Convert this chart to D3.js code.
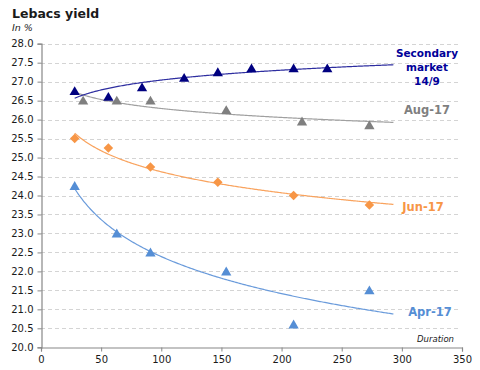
<!DOCTYPE html>
<html>
<head>
<meta charset="utf-8">
<script src="https://cdn.jsdelivr.net/npm/d3@7"></script>
<style>
  body { margin: 0; background: #fff; }
  svg { display: block; font-family: "DejaVu Sans", Verdana, sans-serif; }
</style>
</head>
<body>
<svg id="chart" width="480" height="370"></svg>
<script>
// data ---------------
const secDays = [28, 56, 84, 119, 147, 175, 210, 238];
const secYield = [26.75, 26.6, 26.85, 27.1, 27.25, 27.35, 27.35, 27.35];

const augDays = [35, 63, 91, 154, 217, 273];
const augYield = [26.5, 26.5, 26.5, 26.25, 25.95, 25.85];

const junDays = [28, 56, 91, 147, 210, 273];
const junYield = [25.5, 25.25, 24.75, 24.35, 24.0, 23.75];

const aprDays = [28, 63, 91, 154, 210, 273];
const aprYield = [24.25, 23.0, 22.5, 22.0, 20.6, 21.5];

const xTicks = [0, 50, 100, 150, 200, 250, 300, 350];
const yTicks = [20, 20.5, 21, 21.5, 22, 22.5, 23, 23.5, 24, 24.5, 25, 25.5, 26, 26.5, 27, 27.5, 28];
const trendRange = [28, 293];

const series = [
  { name: "Aug-17", days: augDays, vals: augYield, marker: "tri", color: "#7f7f7f", line: "#a0a0a0" },
  { name: "Jun-17", days: junDays, vals: junYield, marker: "dia", color: "#f79646", line: "#f9a35e" },
  { name: "Apr-17", days: aprDays, vals: aprYield, marker: "tri", color: "#558ed5", line: "#6a9bdb" },
  { name: "Secondary", days: secDays, vals: secYield, marker: "tri", color: "#000080", line: "#2e2ea0" }
];

const svg = d3.select("#chart");

const x = d3.scaleLinear().domain([0, 350]).range([41, 462]);
const y = d3.scaleLinear().domain([20, 28]).range([347.3, 43.7]);

// grille
svg.append("g")
  .selectAll("line")
  .data(yTicks.filter((d) => d > 20))
  .enter()
  .append("line")
  .attr("x1", x(0))
  .attr("x2", 459)
  .attr("y1", (d) => Math.round(y(d)) + 0.5)
  .attr("y2", (d) => Math.round(y(d)) + 0.5)
  .attr("stroke", "#d4d4d4")
  .attr("stroke-dasharray", "4,3");

// axes
const xAxis = svg.append("g")
  .attr("transform", `translate(0,${Math.round(y(20)) + 0.5})`)
  .call(d3.axisBottom(x).tickValues(xTicks).tickSize(4).tickPadding(4).tickFormat(d3.format("d")));

const yAxis = svg.append("g")
  .attr("transform", `translate(${Math.round(x(0)) + 0.5},0)`)
  .call(d3.axisLeft(y).tickValues(yTicks).tickSize(4).tickPadding(4).tickFormat(d3.format(".1f")));

[xAxis, yAxis].forEach((a) => {
  a.select(".domain").attr("stroke", "#888").attr("stroke-width", 1.2);
  a.selectAll(".tick line").attr("stroke", "#888");
  a.selectAll(".tick text")
    .attr("fill", "#1a1a1a")
    .attr("font-size", 10)
    .attr("font-family", "DejaVu Sans, sans-serif");
});

// courbes de tendance (logarithmique)
const logFit = (xs, ys) => {
  const lx = xs.map(Math.log);
  const mx = d3.mean(lx);
  const my = d3.mean(ys);
  const b = d3.sum(lx, (v, i) => (v - mx) * (ys[i] - my)) / d3.sum(lx, (v) => (v - mx) ** 2);
  const a = my - b * mx;
  return (t) => a + b * Math.log(t);
};

const line = d3.line().x((d) => x(d[0])).y((d) => y(d[1])).curve(d3.curveLinear);

series.forEach((s) => {
  const f = logFit(s.days, s.vals);
  const pts = d3.range(trendRange[0], trendRange[1] + 1, 1).map((t) => [t, f(t)]);
  svg.append("path")
    .attr("d", line(pts))
    .attr("fill", "none")
    .attr("stroke", s.line)
    .attr("stroke-width", 1.2);
});

// marqueurs
const tri = d3.symbol(d3.symbolTriangle, 46);
const dia = d3.symbol(d3.symbolDiamond2, 58);

series.forEach((s) => {
  svg.append("g")
    .selectAll("path")
    .data(s.days.map((d, i) => [d, s.vals[i]]))
    .enter()
    .append("path")
    .attr("d", s.marker === "tri" ? tri : dia)
    .attr("transform", (d) => `translate(${x(d[0])},${y(d[1]) + (s.marker === "tri" ? 1 : 0)})`)
    .attr("fill", s.color);
});

// titres
svg.append("text")
  .attr("x", 12).attr("y", 18)
  .attr("font-size", 12.5).attr("font-weight", "bold")
  .attr("fill", "#1a1a1a")
  .text("Lebacs yield");

svg.append("text")
  .attr("x", 12).attr("y", 31)
  .attr("font-size", 9.5).attr("font-style", "italic")
  .attr("fill", "#1a1a1a")
  .text("In %");

svg.append("text")
  .attr("x", 454).attr("y", 342)
  .attr("text-anchor", "end")
  .attr("font-size", 8.5).attr("font-style", "italic")
  .attr("fill", "#1a1a1a")
  .text("Duration");

// étiquettes des séries
const labels = [
  { lines: ["Secondary", "market", "14/9"], x: 427, y: 57, size: 10.5, color: "#000099" },
  { lines: ["Aug-17"], x: 427, y: 114, size: 11.5, color: "#7f7f7f" },
  { lines: ["Jun-17"], x: 423, y: 211, size: 11.5, color: "#f79646" },
  { lines: ["Apr-17"], x: 430, y: 316, size: 11.5, color: "#558ed5" }
];

labels.forEach((l) => {
  const t = svg.append("text")
    .attr("text-anchor", "middle")
    .attr("font-size", l.size)
    .attr("font-weight", "bold")
    .attr("fill", l.color);
  l.lines.forEach((s, i) => {
    t.append("tspan").attr("x", l.x).attr("y", l.y + i * 14).text(s);
  });
});
</script>
</body>
</html>
